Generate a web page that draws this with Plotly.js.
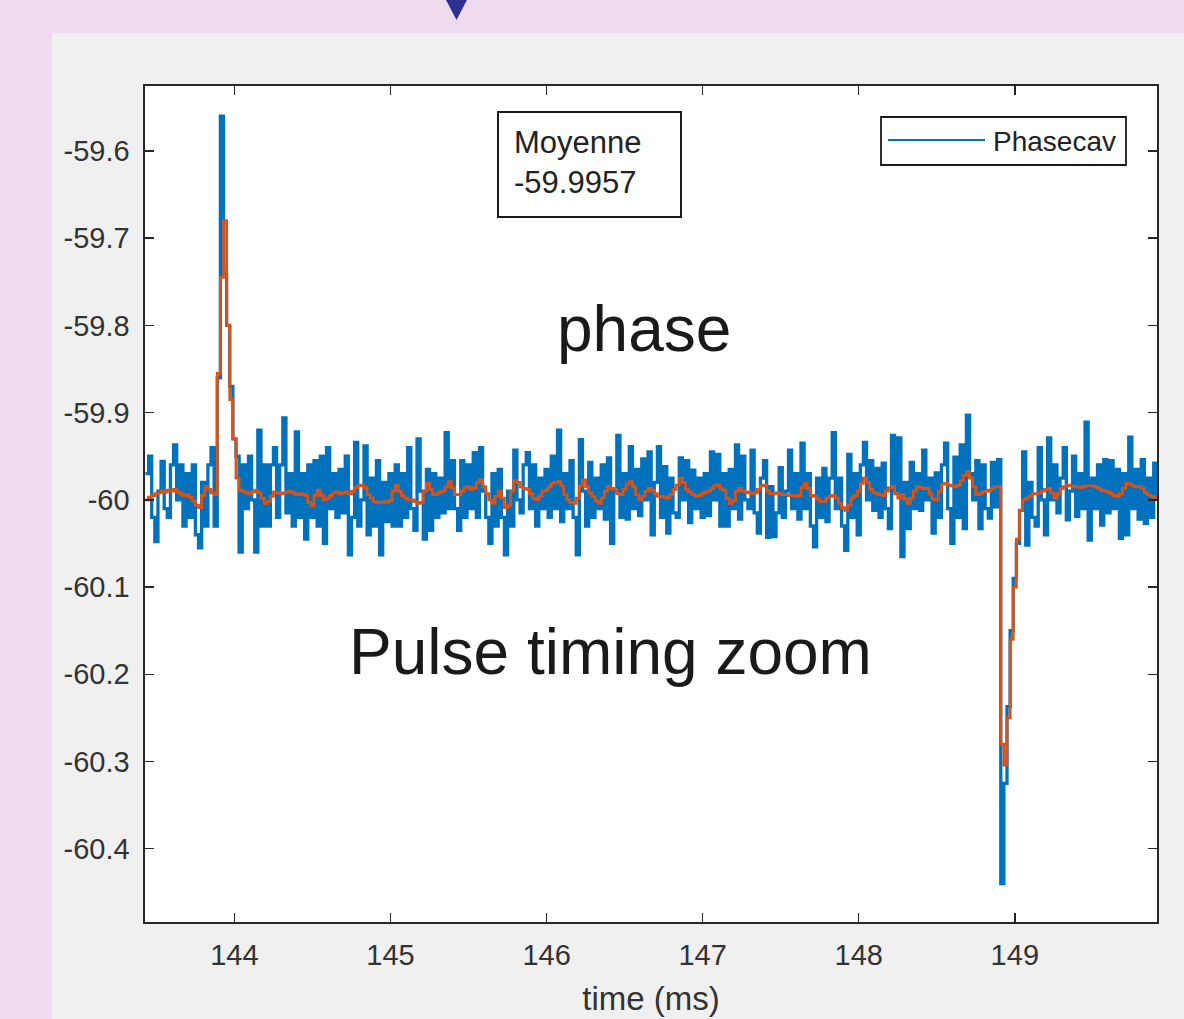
<!DOCTYPE html>
<html>
<head>
<meta charset="utf-8">
<script src="https://cdn.plot.ly/plotly-3.0.1.min.js"></script>
<style>
html, body { margin: 0; padding: 0; background: #F0F0F0; }
#chart { width: 1184px; height: 1019px; }
</style>
</head>
<body>
<div id="chart"></div>
<script>
// ---- data ----
const timeStart = 143.43;   // ms, first sample
const timeStep = 0.02;      // ms, sample period

// raw phase (blue)
const phasecav = [
-59.97,-59.95,-60.02,-60.048,-59.99,-59.956,-60.01,-60.02,-59.96,-59.937,
-60.00,-59.96,-60.03,-59.97,-60.02,-59.96,-60.04,-60.055,-59.98,-60.03,
-59.96,-59.94,-60.03,-59.86,-59.56,-59.74,-59.80,-59.87,-59.93,-59.95,
-60.06,-59.96,-60.01,-59.95,-60.00,-60.06,-59.92,-60.03,-59.96,-60.03,
-59.96,-59.94,-60.02,-59.96,-59.906,-60.015,-59.97,-60.03,-59.922,-60.02,
-59.97,-60.045,-59.96,-60.02,-59.955,-60.03,-59.95,-60.05,-59.94,-60.01,
-59.97,-60.02,-59.965,-60.015,-59.95,-60.063,-60.02,-59.934,-60.03,-60.00,
-59.938,-60.04,-59.975,-60.03,-59.955,-60.063,-59.98,-60.025,-59.97,-60.03,
-59.96,-60.03,-59.97,-60.02,-59.94,-60.01,-60.035,-59.93,-59.99,-60.045,
-59.965,-60.035,-59.97,-60.02,-59.975,-60.015,-59.923,-60.01,-59.955,-60.01,
-60.035,-59.955,-60.02,-59.96,-60.01,-59.946,-60.02,-59.94,-59.99,-60.02,
-60.05,-59.97,-60.03,-59.965,-60.02,-60.063,-59.99,-60.03,-59.943,-60.00,
-60.015,-59.96,-59.946,-60.01,-59.96,-60.03,-59.975,-60.01,-59.965,-60.02,
-59.95,-60.01,-59.92,-60.025,-59.97,-60.01,-59.955,-60.02,-60.063,-59.931,
-59.99,-60.03,-59.957,-60.02,-59.975,-60.01,-59.96,-60.022,-59.952,-60.05,
-59.99,-59.926,-60.02,-59.97,-60.022,-59.939,-60.01,-59.965,-60.018,-59.953,
-60.00,-59.945,-60.04,-59.98,-59.939,-60.02,-59.962,-60.038,-59.975,-60.015,
-60.02,-59.952,-60.00,-59.955,-60.026,-59.966,-60.01,-59.975,-60.02,-59.97,
-60.018,-59.945,-60.00,-59.948,-60.03,-59.97,-60.03,-59.965,-60.01,-59.937,
-60.022,-59.95,-60.00,-60.01,-59.943,-60.015,-60.038,-59.975,-59.955,-60.043,
-59.985,-60.042,-60.015,-59.963,-60.02,-59.99,-59.943,-60.01,-59.97,-60.022,
-59.935,-60.01,-59.97,-60.03,-60.054,-59.975,-60.02,-59.964,-60.025,-59.975,
-59.923,-60.01,-59.975,-60.03,-60.058,-59.948,-60.02,-59.97,-60.04,-59.96,
-59.934,-60.00,-59.955,-60.012,-59.964,-60.02,-59.958,-60.01,-60.033,-59.926,
-59.99,-59.929,-60.065,-59.98,-60.033,-59.957,-60.01,-59.97,-60.012,-59.943,
-60.00,-59.975,-60.038,-59.969,-60.02,-59.96,-59.935,-60.01,-60.05,-59.951,
-60.02,-59.937,-60.033,-59.903,-59.97,-60.00,-59.955,-60.033,-59.96,-60.01,
-60.021,-59.957,-60.008,-59.954,-60.44,-60.325,-60.237,-60.15,-60.09,-60.05,
-60.012,-59.945,-60.052,-59.98,-60.02,-60.03,-59.94,-60.00,-60.04,-59.929,
-60.00,-59.96,-60.015,-59.975,-59.94,-60.023,-59.99,-59.95,-60.019,-59.97,
-60.01,-59.911,-60.046,-59.975,-60.01,-59.96,-60.029,-59.954,-60.015,-59.955,
-60.01,-59.965,-60.044,-59.97,-60.04,-59.928,-60.01,-59.965,-60.022,-59.954,
-60.027,-59.975,-60.02,-59.958,-60.00
];

// running mean (orange)
const phasecavMean = [
-60.000,-59.997,-59.995,-59.993,-59.992,-59.990,-59.991,-59.989,-59.990,-59.988,
-59.991,-59.993,-59.995,-59.994,-59.997,-60.001,-60.006,-60.009,-59.995,-59.985,
-59.988,-59.992,-59.994,-59.855,-59.745,-59.680,-59.800,-59.885,-59.930,-59.975,
-59.989,-59.990,-59.992,-59.993,-59.991,-59.989,-59.992,-59.998,-60.004,-60.002,
-59.996,-59.991,-59.992,-59.993,-59.992,-59.991,-59.990,-59.992,-59.994,-59.993,
-59.994,-59.995,-60.003,-60.007,-59.995,-59.989,-59.995,-60.000,-59.998,-59.995,
-59.992,-59.991,-59.993,-59.992,-59.991,-59.993,-59.990,-59.986,-59.984,-59.983,
-59.986,-59.994,-59.998,-60.002,-60.003,-60.003,-60.002,-60.003,-60.001,-59.990,
-59.983,-59.990,-59.995,-59.998,-60.000,-60.000,-60.002,-60.004,-60.003,-59.990,
-59.981,-59.988,-59.994,-59.993,-59.991,-59.990,-59.985,-59.979,-59.986,-59.994,
-59.994,-59.990,-59.986,-59.985,-59.988,-59.986,-59.980,-59.977,-59.985,-59.993,
-60.000,-60.004,-59.996,-59.990,-59.998,-60.009,-60.006,-59.990,-59.978,-59.980,
-59.985,-59.987,-59.988,-59.993,-59.998,-60.000,-59.996,-59.990,-59.989,-59.985,
-59.981,-59.980,-59.979,-59.984,-59.994,-60.000,-60.003,-60.004,-59.998,-59.984,
-59.977,-59.985,-59.992,-59.996,-60.001,-60.004,-59.998,-59.990,-59.985,-59.987,
-59.988,-59.993,-59.994,-59.988,-59.982,-59.979,-59.985,-59.994,-60.000,-59.996,
-59.990,-59.987,-59.989,-59.993,-59.996,-59.996,-59.997,-59.998,-59.994,-59.988,
-59.983,-59.975,-59.980,-59.988,-59.991,-59.994,-59.996,-59.995,-59.993,-59.991,
-59.990,-59.987,-59.984,-59.983,-59.987,-59.989,-59.998,-60.004,-60.001,-59.990,
-59.987,-59.990,-59.991,-59.992,-59.993,-59.992,-59.988,-59.984,-59.983,-59.990,
-59.993,-59.993,-59.992,-59.993,-59.994,-59.994,-59.995,-59.995,-59.996,-59.995,
-59.986,-59.981,-59.987,-59.995,-59.996,-59.999,-60.002,-60.002,-59.998,-59.996,
-59.995,-59.998,-60.004,-60.009,-60.012,-60.006,-59.998,-59.995,-59.990,-59.981,
-59.975,-59.980,-59.988,-59.992,-59.993,-59.994,-59.995,-59.990,-59.986,-59.985,
-59.993,-59.998,-59.994,-59.999,-60.004,-59.998,-59.990,-59.985,-59.986,-59.987,
-59.987,-59.993,-59.999,-60.000,-59.990,-59.982,-59.981,-59.983,-59.984,-59.985,
-59.983,-59.978,-59.972,-59.968,-59.975,-59.985,-59.994,-59.993,-59.991,-59.990,
-59.989,-59.987,-59.985,-59.985,-60.280,-60.304,-60.250,-60.160,-60.100,-60.045,
-60.012,-60.000,-59.998,-59.996,-59.993,-59.993,-59.992,-59.990,-59.988,-59.987,
-59.992,-59.998,-59.993,-59.987,-59.985,-59.983,-59.984,-59.985,-59.985,-59.986,
-59.985,-59.984,-59.984,-59.984,-59.985,-59.987,-59.989,-59.990,-59.991,-59.993,
-59.995,-59.996,-59.993,-59.987,-59.981,-59.982,-59.984,-59.985,-59.985,-59.987,
-59.992,-59.994,-59.996,-59.997,-59.998
];

const xTickVals = [144, 145, 146, 147, 148, 149];
const xTickText = ['144', '145', '146', '147', '148', '149'];
const yTickVals = [-60.4, -60.3, -60.2, -60.1, -60, -59.9, -59.8, -59.7, -59.6];
const yTickText = ['-60.4', '-60.3', '-60.2', '-60.1', '-60', '-59.9', '-59.8', '-59.7', '-59.6'];
const xAxisTitle = 'time (ms)';
const legendLabel = 'Phasecav';
const meanLabel = 'Moyenne';
const meanValue = '-59.9957';
const labelPhase = 'phase';
const labelZoom = 'Pulse timing zoom';

// ---- build ----
function timesFor(n) {
  const t = [];
  for (let i = 0; i < n; i++) t.push(+(timeStart + i * timeStep).toFixed(4));
  return t;
}

const FONT = '"Liberation Sans", Arial, Helvetica, sans-serif';
const AX = '#262626';

const traces = [
  {
    type: 'scatter', mode: 'lines', name: legendLabel,
    x: timesFor(phasecav.length), y: phasecav,
    line: { color: '#0072BD', width: 3.3, shape: 'hv' },
    hoverinfo: 'skip'
  },
  {
    type: 'scatter', mode: 'lines', name: 'mean',
    x: timesFor(phasecavMean.length), y: phasecavMean,
    line: { color: '#D95319', width: 2.8, shape: 'hv' },
    hoverinfo: 'skip'
  }
];

// paper helpers (plot area 145..1157 x 86..922 px)
const L = 145, R = 1157, T = 86, B = 922;
const px = v => (v - L) / (R - L);
const py = v => (B - v) / (B - T);

const layout = {
  width: 1184, height: 1019,
  margin: { l: L, r: 1184 - R, t: T, b: 1019 - B, pad: 0 },
  paper_bgcolor: '#F0F0F0',
  plot_bgcolor: '#FFFFFF',
  showlegend: false,
  font: { family: FONT, color: AX },
  xaxis: {
    range: [143.427, 149.911],
    tickmode: 'array', tickvals: xTickVals, ticktext: xTickText,
    ticks: 'inside', ticklen: 9, tickwidth: 1.5, tickcolor: AX,
    showline: true, linecolor: AX, linewidth: 1.6, mirror: 'allticks',
    showgrid: false, zeroline: false,
    tickfont: { family: FONT, size: 29, color: '#333333' },
    ticklabelstandoff: 7,
    title: { text: xAxisTitle, font: { family: FONT, size: 33, color: '#333333' }, standoff: 16 }
  },
  yaxis: {
    range: [-60.484, -59.5255],
    tickmode: 'array', tickvals: yTickVals, ticktext: yTickText,
    ticks: 'inside', ticklen: 9, tickwidth: 1.5, tickcolor: AX,
    showline: true, linecolor: AX, linewidth: 1.6, mirror: 'allticks',
    showgrid: false, zeroline: false,
    tickfont: { family: FONT, size: 29, color: '#333333' },
    ticklabelstandoff: 8
  },
  shapes: [
    // lavender page strips
    { type: 'rect', xref: 'paper', yref: 'paper', layer: 'below',
      x0: px(0), x1: px(1184), y0: py(33), y1: py(0), fillcolor: '#EEDCEE', line: { width: 0 } },
    { type: 'rect', xref: 'paper', yref: 'paper', layer: 'below',
      x0: px(0), x1: px(52), y0: py(1019), y1: py(0), fillcolor: '#EEDCEE', line: { width: 0 } },
    // navy marker triangle
    { type: 'path', xref: 'paper', yref: 'paper', layer: 'above',
      path: 'M ' + px(445) + ' ' + py(-2) + ' L ' + px(468) + ' ' + py(-2) + ' L ' + px(456.5) + ' ' + py(20) + ' Z',
      fillcolor: '#2E3192', line: { width: 0 } },
    // mean box
    { type: 'rect', xref: 'paper', yref: 'paper', layer: 'above',
      x0: px(498), x1: px(681), y0: py(217), y1: py(112),
      fillcolor: '#FFFFFF', line: { color: '#1a1a1a', width: 2 } },
    // legend box
    { type: 'rect', xref: 'paper', yref: 'paper', layer: 'above',
      x0: px(881), x1: px(1126), y0: py(165), y1: py(117),
      fillcolor: '#FFFFFF', line: { color: '#1a1a1a', width: 1.8 } },
    // legend line sample
    { type: 'line', xref: 'paper', yref: 'paper', layer: 'above',
      x0: px(888), x1: px(985), y0: py(140), y1: py(140),
      line: { color: '#0072BD', width: 2 } }
  ],
  annotations: [
    { xref: 'paper', yref: 'paper', x: px(991), y: py(141), xanchor: 'left', yanchor: 'middle',
      text: legendLabel, showarrow: false, font: { family: FONT, size: 28, color: '#222222' } },
    { xref: 'paper', yref: 'paper', x: px(512), y: py(163), xanchor: 'left', yanchor: 'middle', align: 'left',
      text: meanLabel + '<br>' + meanValue, showarrow: false, font: { family: FONT, size: 31, color: '#222222' } },
    { xref: 'paper', yref: 'paper', x: px(644), y: py(329), xanchor: 'center', yanchor: 'middle',
      text: labelPhase, showarrow: false, font: { family: FONT, size: 64, color: '#1a1a1a' } },
    { xref: 'paper', yref: 'paper', x: px(610), y: py(652), xanchor: 'center', yanchor: 'middle',
      text: labelZoom, showarrow: false, font: { family: FONT, size: 64, color: '#1a1a1a' } }
  ]
};

Plotly.newPlot('chart', traces, layout, { displayModeBar: false, staticPlot: true });
</script>
</body>
</html>
